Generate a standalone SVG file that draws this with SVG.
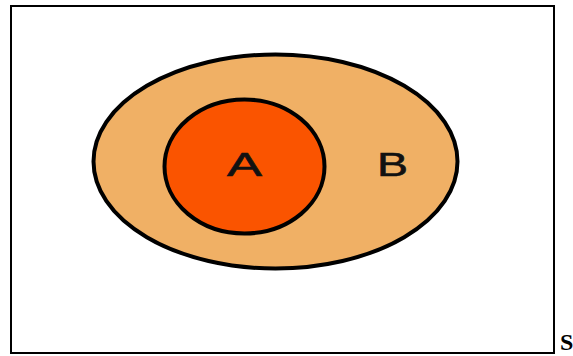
<svg xmlns="http://www.w3.org/2000/svg" width="573" height="356" viewBox="0 0 573 356">
<style>
.lbl{font-family:"Liberation Sans",Arial,sans-serif;font-size:33px;fill:#111;stroke:#111;stroke-width:0.6}
.set{stroke:#000;stroke-width:4}
</style>
<rect x="0" y="0" width="573" height="356" fill="#fff"/>
<rect x="11" y="6" width="543" height="347" fill="none" stroke="#000" stroke-width="2"/>
<g id="B">
<ellipse class="set" cx="275.5" cy="161.5" rx="182" ry="107" fill="#F0B065"/>
<text class="lbl" x="377" y="176" textLength="31" lengthAdjust="spacingAndGlyphs">B</text>
</g>
<g id="A">
<ellipse class="set" cx="244.5" cy="166.5" rx="80" ry="67" fill="#FA5400"/>
<text class="lbl" x="227" y="176" textLength="35" lengthAdjust="spacingAndGlyphs">A</text>
</g>
<g id="connectors"></g>
<text x="560" y="350" font-family="Liberation Serif,'Times New Roman',serif" font-weight="bold" font-size="24" fill="#000">S</text>
</svg>
